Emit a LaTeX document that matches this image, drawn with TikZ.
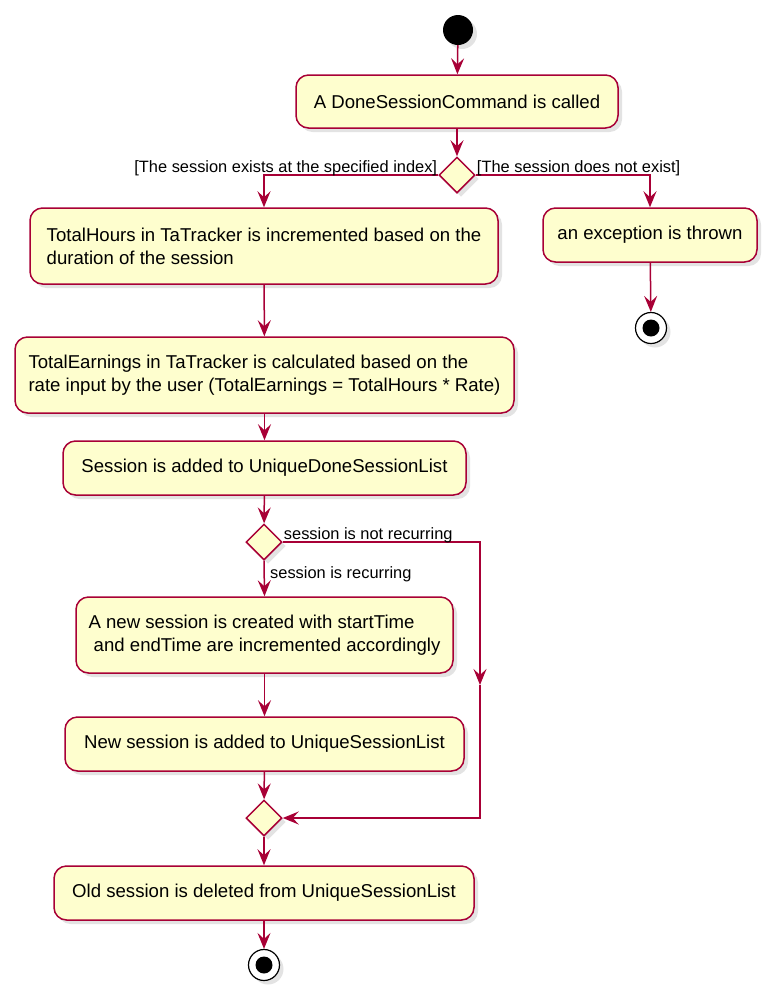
\documentclass[tikz,border=0pt]{standalone}
\usepackage{fontspec}
\setmainfont{Liberation Sans}
\usepackage{xcolor}
\usepackage{tikz}
\usetikzlibrary{calc}
\usetikzlibrary{shapes,arrows,positioning,shadows}
\usetikzlibrary{arrows.meta}
\usetikzlibrary{shapes.geometric}
\definecolor{umlred}{HTML}{A80036}
\definecolor{umlfill}{HTML}{FEFECE}

\begin{document}
\begin{tikzpicture}[x=1pt,y=-1pt,
		umlshadow/.style={drop shadow={shadow xshift=4pt,shadow yshift=-4pt,fill=black!22}},
		activity/.style={draw=umlred,fill=umlfill,line width=1.5pt,rounded corners=12.5pt,align=left,inner sep=0pt,font=\fontsize{18.6}{23}\selectfont,umlshadow},
		decision/.style={diamond,draw=umlred,fill=umlfill,line width=1.5pt,minimum width=36pt,minimum height=36pt,inner sep=0pt,umlshadow},
		startnode/.style={circle,fill=black,minimum size=30pt,inner sep=0pt,umlshadow},
		stopnode/.style={circle,draw=black,line width=1.2pt,fill=white,minimum size=31pt,inner sep=0pt,umlshadow,path picture={\fill[black] (path picture bounding box.center) circle (8.5pt);}},
		flow/.style={draw=umlred,line width=1.5pt,-{Stealth[length=16pt,width=13pt,inset=6pt]}},
		guard/.style={font=\fontsize{16.4}{19}\selectfont,inner sep=0pt}]
		\useasboundingbox (0,0) rectangle (772,997);
		\node[startnode] (start) at (458,30) {};
		\node[activity,minimum width=322pt,minimum height=53pt] (called) at (457,101.5) {A DoneSessionCommand is called};
		\node[decision] (exists) at (457,175) {};
		\node[activity,minimum width=468pt,minimum height=76pt] (hours) at (264,246) {TotalHours in TaTracker is incremented based on the\\duration of the session};
		\node[activity,minimum width=214pt,minimum height=54pt] (thrown) at (650,235) {an exception is thrown};
		\node[stopnode] (stopA) at (651,328) {};
		\node[activity,minimum width=499pt,minimum height=76pt] (earnings) at (264.5,375) {TotalEarnings in TaTracker is calculated based on the\\rate input by the user (TotalEarnings = TotalHours * Rate)};
		\node[activity,minimum width=403pt,minimum height=54pt] (donelist) at (264.5,468) {Session is added to UniqueDoneSessionList};
		\node[decision] (recurring) at (264,542) {};
		\node[activity,minimum width=377pt,minimum height=76pt] (newsession) at (264.5,635) {A new session is created with startTime\\\ and endTime are incremented accordingly};
		\node[activity,minimum width=399pt,minimum height=54pt] (sessionlist) at (264.5,744) {New session is added to UniqueSessionList};
		\node[decision] (merge) at (264,818) {};
		\node[activity,minimum width=420pt,minimum height=54pt] (deleted) at (264,893) {Old session is deleted from UniqueSessionList};
		\node[stopnode] (stopB) at (264,965) {};
		\coordinate (skip) at (480,685);
		\draw[flow] (start) -- (called);
		\draw[flow] (called) -- (exists);
		\draw[flow] (exists.west) -| (hours.north);
		\draw[flow] (exists.east) -| (thrown.north);
		\node[guard,anchor=base east] at ($(exists.west)+(-1,-3)$) {[The session exists at the specified index]};
		\node[guard,anchor=base west] at ($(exists.east)+(1,-3)$) {[The session does not exist]};
		\draw[flow] (thrown) -- (stopA);
		\draw[flow] (hours) -- (earnings);
		\draw[flow] (earnings) -- (donelist);
		\draw[flow] (donelist) -- (recurring);
		\draw[flow] (recurring.south) -- (newsession.north);
		\node[guard,anchor=base west] at ($(recurring.south)+(6,18)$) {session is recurring};
		\draw[flow] (recurring.east) -| (skip);
		\draw[flow] (skip) |- (merge.east);
		\node[guard,anchor=base west] at ($(recurring.east)+(1,-3)$) {session is not recurring};
		\draw[flow] (newsession) -- (sessionlist);
		\draw[flow] (sessionlist) -- (merge);
		\draw[flow] (merge) -- (deleted);
		\draw[flow] (deleted) -- (stopB);
	\end{tikzpicture}
\end{document}
